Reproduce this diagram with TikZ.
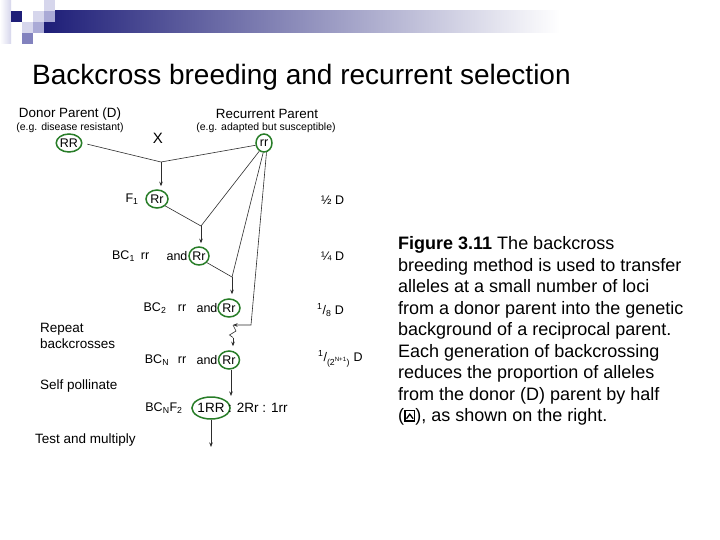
\documentclass[tikz,border=0pt]{standalone}
\usepackage{fontspec}
\setmainfont{Liberation Sans}
\usetikzlibrary{arrows.meta,shapes.geometric}
\definecolor{navy}{RGB}{30,30,120}
\definecolor{lavA}{RGB}{214,214,236}
\definecolor{lavB}{RGB}{170,170,214}
\definecolor{lavC}{RGB}{130,130,190}
\definecolor{gcircle}{RGB}{40,125,40}
\definecolor{connc}{RGB}{45,45,45}
\newcommand\wedgeicon{\tikz[x=1pt,y=1pt,baseline=0pt]{\draw[line width=1.4pt] (0.7,0.7) rectangle (10.5,11.5); \draw[line width=1.3pt,line join=miter] (2.3,3) -- (5.6,7.6) -- (8.9,3);}}
\begin{document}
\begin{tikzpicture}[x=1pt,y=-1pt,
  gen/.style={ellipse, draw=gcircle, line width=1.5pt, inner sep=0pt, font=\fontsize{12.5}{14}\selectfont},
  lbl/.style={inner sep=0pt, font=\fontsize{12.5}{14}\selectfont},
  lblbig/.style={inner sep=0pt, font=\fontsize{13.5}{16}\selectfont},
  ptitle/.style={inner sep=0pt, font=\fontsize{13.4}{16}\selectfont},
  note/.style={inner sep=0pt, font=\fontsize{10.5}{12}\selectfont},
  side/.style={inner sep=0pt, font=\fontsize{13.5}{16}\selectfont, align=left, anchor=west},
  conn/.style={draw=connc, line width=0.6pt},
  arr/.style={conn, -{Stealth[length=4.5pt,width=3.5pt]}},
]
\useasboundingbox (0,0) rectangle (720,540);
\fill[white] (0,0) rectangle (720,540);
% header decoration
\shade[left color=white, right color=lavA] (0,0) rectangle (11,44);
\shade[left color=navy, right color=white] (44,11) rectangle (560,33);
\fill[navy] (11,11) rectangle (22,22);
\fill[lavA] (33,11) rectangle (44,22);
\fill[lavA] (44,0) rectangle (55,11);
\fill[lavB] (44,11) rectangle (55,22);
\fill[lavA] (22,22) rectangle (33,33);
\fill[lavB] (33,22) rectangle (44,33);
\fill[lavC] (22,33) rectangle (33,44);
% title
\node[inner sep=0pt, anchor=base west, font=\fontsize{28}{34}\selectfont] (title) at (32,85) {Backcross breeding and recurrent selection};
% parents
\node[ptitle] (donor) at (70,114) {Donor Parent (D)};
\node[note] (donornote) at (70,128) {(e.g. disease resistant)};
\node[gen, minimum width=25pt, minimum height=18pt] (RR) at (69,143) {RR};
\node[inner sep=0pt, font=\fontsize{15}{18}\selectfont] (cross) at (158,138) {X};
\node[ptitle] (recur) at (267,114) {Recurrent Parent};
\node[note] (recurnote) at (266,128) {(e.g. adapted but susceptible)};
\node[gen, minimum width=16pt, minimum height=18pt] (rr) at (264,143) {rr};
% F1
\node[lbl] (F1) at (132,199) {F\textsubscript{1}};
\node[gen, minimum width=22pt, minimum height=18pt] (Rr1) at (157,199) {Rr};
\node[lbl, anchor=west] (half) at (321,200) {½ D};
% BC1
\node[lbl] (bc1) at (123.5,256) {BC\textsubscript{1}};
\node[lbl] (bc1rr) at (145,256) {rr};
\node[lbl] (bc1and) at (177,256) {and};
\node[gen, minimum width=20pt, minimum height=18pt] (Rr2) at (199,256) {Rr};
\node[lbl, anchor=west] (quarter) at (321,256) {¼ D};
% BC2
\node[lbl] (bc2) at (155,308) {BC\textsubscript{2}};
\node[lbl] (bc2rr) at (182,308) {rr};
\node[lbl] (bc2and) at (207,308) {and};
\node[gen, minimum width=22pt, minimum height=18pt] (Rr3) at (229,308) {Rr};
\node[lbl, anchor=west] (eighth) at (317,310) {\textsuperscript{1}/\textsubscript{8} D};
% BCN
\node[lbl] (bcn) at (157,360) {BC\textsubscript{N}};
\node[lbl] (bcnrr) at (182,360) {rr};
\node[lbl] (bcnand) at (207,360) {and};
\node[gen, minimum width=21pt, minimum height=18pt] (Rr4) at (229,360) {Rr};
\node[lbl, anchor=west] (nfrac) at (318,359) {\textsuperscript{1}/\textsubscript{(2\textsuperscript{N+1})} D};
% BCNF2
\node[lbl] (bcnf2) at (164,408) {BC\textsubscript{N}F\textsubscript{2}};
\node[gen, minimum width=30pt, minimum height=22pt, font=\fontsize{13.5}{16}\selectfont] (RRf) at (211,408) {1RR};
\node[lblbig, anchor=west] (ratio) at (228,408) {: 2Rr : 1rr};
% side labels
\node[side] (repeat) at (40,335.5) {Repeat\\backcrosses};
\node[side] (selfp) at (40,386) {Self pollinate};
\node[side] (testm) at (35,440) {Test and multiply};
% connectors
\coordinate (j1) at (161,162);
\coordinate (j2) at (201,226);
\coordinate (j3) at (232,277);
\coordinate (k) at (251,325);
\coordinate (j4) at (233,325);
\coordinate (z1) at (236,331);
\coordinate (z2) at (229.5,335);
\coordinate (z3) at (233,337.5);
\coordinate (t1) at (231,396);
\coordinate (t2) at (211,447);
\draw[conn, shorten <=5pt] (RR.east) -- (j1);
\draw[conn] (rr.195) -- (j1);
\draw[arr, shorten >=3pt] (j1) -- (j1 |- Rr1.north);
\draw[conn] (Rr1.-40) -- (j2);
\draw[conn] (rr.240) -- (j2);
\draw[arr, shorten >=3pt] (j2) -- (j2 |- Rr2.north);
\draw[conn] (Rr2.-40) -- (j3);
\draw[conn] (rr.265) -- (j3);
\draw[arr, shorten >=4pt] (j3) -- (j3 |- Rr3.north);
\draw[arr] (rr.285) -- (k) -- (j4);
\draw[conn] (j4) -- (z1) -- (z2) -- (z3);
\draw[arr, shorten >=4pt] (z3) -- (z3 |- Rr4.north);
\draw[arr] (Rr4.south -| t1) -- (t1);
\draw[arr] (RRf.south) -- (t2);
% caption
\node[anchor=north west, inner sep=0pt, align=left, font=\fontsize{18}{21.5}\selectfont] (caption) at (398,236.5) {\textbf{Figure 3.11} The backcross\\breeding method is used to transfer\\alleles at a small number of loci\\from a donor parent into the genetic\\background of a reciprocal parent.\\Each generation of backcrossing\\reduces the proportion of alleles\\from the donor (D) parent by half\\(\wedgeicon), as shown on the right.};
\end{tikzpicture}
\end{document}
